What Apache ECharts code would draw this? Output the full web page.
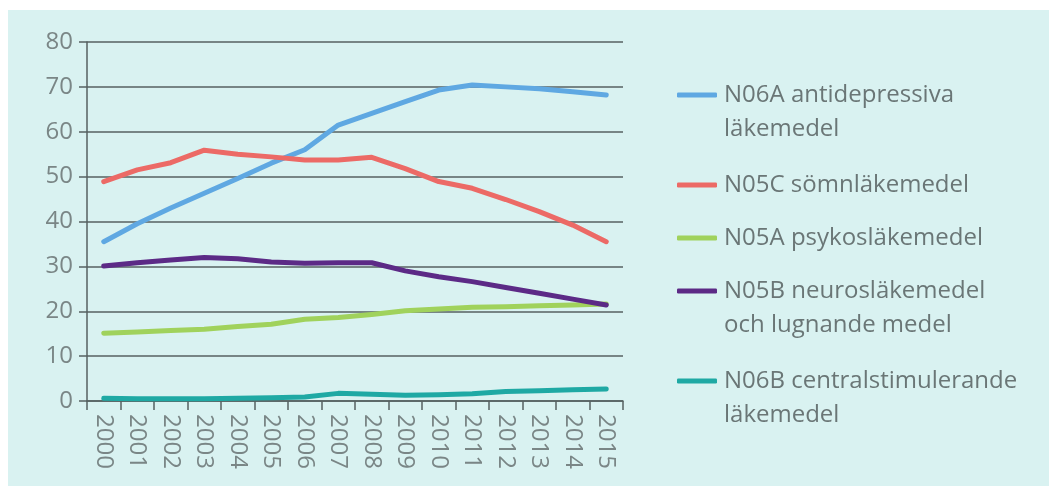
<!DOCTYPE html>
<html>
<head>
<meta charset="utf-8">
<script src="https://cdn.jsdelivr.net/npm/echarts@6/dist/echarts.min.js"></script>
<style>
html,body{margin:0;padding:0;background:#ffffff;}
#wrap{position:relative;width:1049px;height:486px;background:#ffffff;overflow:hidden;}
#chart{position:absolute;left:8px;top:10px;width:1041px;height:476px;background:#d9f2f1;}
</style>
</head>
<body>
<div id="wrap"><div id="chart"></div></div>
<script>
const years = ['2000','2001','2002','2003','2004','2005','2006','2007','2008','2009','2010','2011','2012','2013','2014','2015'];
const yTicks = {min: 0, max: 80, interval: 10};

const n06a = [35.5, 39.5, 43.0, 46.3, 49.6, 53.0, 56.0, 61.5, 64.1, 66.7, 69.3, 70.4, 70.0, 69.6, 68.9, 68.2];
const n05c = [48.9, 51.5, 53.1, 55.9, 55.0, 54.4, 53.7, 53.7, 54.3, 51.8, 48.9, 47.4, 44.9, 42.2, 39.2, 35.5];
const n05a = [15.1, 15.4, 15.7, 16.0, 16.6, 17.1, 18.2, 18.6, 19.3, 20.1, 20.5, 20.9, 21.0, 21.2, 21.4, 21.6];
const n05b = [30.1, 30.8, 31.4, 32.0, 31.7, 31.0, 30.7, 30.8, 30.8, 29.0, 27.7, 26.6, 25.3, 24.0, 22.7, 21.4];
const n06b = [0.6, 0.5, 0.5, 0.5, 0.6, 0.7, 0.9, 1.7, 1.5, 1.3, 1.4, 1.6, 2.1, 2.3, 2.5, 2.7];

const names = ['N06A', 'N05C', 'N05A', 'N05B', 'N06B'];
const legendText = {
  'N06A': '\nN06A antidepressiva\nläkemedel',
  'N05C': 'N05C sömnläkemedel',
  'N05A': 'N05A psykosläkemedel',
  'N05B': '\nN05B neurosläkemedel\noch lugnande medel',
  'N06B': '\nN06B centralstimulerande\nläkemedel'
};
const colors = ['#5fa8e2', '#ec6a66', '#a0d25c', '#5c2a86', '#1fa9a4'];
const dataSets = [n06a, n05c, n05a, n05b, n06b];

const FONT = '"Open Sans", sans-serif';
const legendTops = [29, 153, 206, 225, 315];

const chart = echarts.init(document.getElementById('chart'));
chart.setOption({
  backgroundColor: '#d9f2f1',
  animation: false,
  grid: {left: 79, top: 32, width: 536, height: 359, containLabel: false},
  xAxis: {
    type: 'category',
    data: years,
    boundaryGap: true,
    axisLine: {show: true, lineStyle: {color: '#566161', width: 1.5}},
    axisTick: {show: true, length: 9, alignWithLabel: false, lineStyle: {color: '#566161', width: 1.5}},
    axisLabel: {rotate: -90, margin: 13, color: '#7a8686', fontFamily: FONT, fontSize: 24, interval: 0},
    splitLine: {show: false}
  },
  yAxis: {
    type: 'value',
    min: yTicks.min, max: yTicks.max, interval: yTicks.interval,
    axisLine: {show: true, lineStyle: {color: '#566161', width: 1.5}},
    axisTick: {show: true, length: 8, lineStyle: {color: '#566161', width: 1.5}},
    axisLabel: {margin: 14, color: '#7a8686', fontFamily: FONT, fontSize: 24},
    splitLine: {show: true, lineStyle: {color: '#566161', width: 1.5}}
  },
  legend: names.map((n, i) => ({
    data: [n],
    orient: 'vertical',
    left: 664,
    top: legendTops[i],
    icon: 'roundRect',
    itemWidth: 40,
    itemHeight: 5,
    selectedMode: false,
    formatter: (name) => legendText[name],
    textStyle: {color: '#6a7676', fontFamily: FONT, fontSize: 24, lineHeight: 34, padding: [0, 0, 0, 2]}
  })),
  series: names.map((n, i) => ({
    name: n,
    type: 'line',
    data: dataSets[i],
    symbol: 'none',
    smooth: false,
    color: colors[i],
    lineStyle: {color: colors[i], width: 5, cap: 'round', join: 'round'}
  }))
});
</script>
</body>
</html>
